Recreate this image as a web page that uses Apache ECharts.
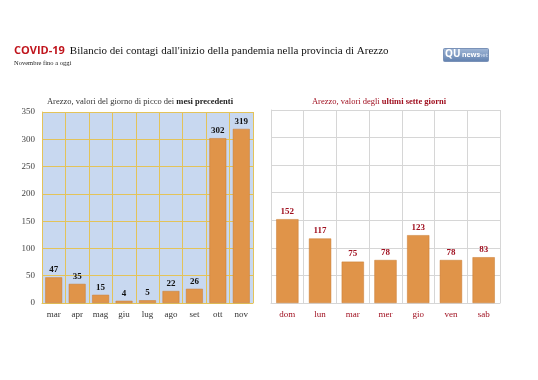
<!DOCTYPE html>
<html><head><meta charset="utf-8">
<script src="https://cdn.jsdelivr.net/npm/echarts@6/dist/echarts.min.js"></script>
<style>html,body{margin:0;padding:0;background:#fff}#c{width:538px;height:380px}</style>
</head><body><div id="c"></div>
<script>
const months = ['mar','apr','mag','giu','lug','ago','set','ott','nov'];
const monthValues = [47,35,15,4,5,22,26,302,319];
const days = ['dom','lun','mar','mer','gio','ven','sab'];
const dayValues = [152,117,75,78,123,78,83];
const yTicks = [0,50,100,150,200,250,300,350];

const serif = '"Liberation Serif", "DejaVu Serif", serif';
const chart = echarts.init(document.getElementById('c'));
const barColor = '#e09449';
chart.setOption({
  animation:false,
  backgroundColor:'#fff',
  title:[{
    left:9, top:37,
    text:'{r|COVID-19} {b|Bilancio dei contagi dall\'inizio della pandemia nella provincia di Arezzo}',
    textStyle:{fontWeight:'normal',rich:{
      r:{fontFamily:'"Open Sans", "Noto Sans", sans-serif',fontWeight:'bold',fontSize:11,color:'#c0141c'},
      b:{fontFamily:serif,fontSize:11,fontWeight:'normal',color:'#111'}
    }}
  },{
    left:9, top:55, text:'Novembre fino a oggi',
    textStyle:{fontFamily:serif,fontSize:6.5,fontWeight:'normal',color:'#222'}
  },{
    left:135, top:92, textAlign:'center',
    text:'Arezzo, valori del giorno di picco dei {b|mesi precedenti}',
    textStyle:{fontFamily:serif,fontSize:8.5,fontWeight:'normal',color:'#333',rich:{b:{fontFamily:serif,fontSize:8.5,fontWeight:'bold',color:'#222'}}}
  },{
    left:374, top:92, textAlign:'center',
    text:'Arezzo, valori degli {b|ultimi sette giorni}',
    textStyle:{fontFamily:serif,fontSize:8.5,fontWeight:'normal',color:'#a01020',rich:{b:{fontFamily:serif,fontSize:8.5,fontWeight:'bold',color:'#a01020'}}}
  }],
  graphic:[{
    type:'rect', left:443, top:48, z:10, shape:{width:45,height:13,r:1},
    style:{fill:new echarts.graphic.LinearGradient(0,0,0,1,[{offset:0,color:'#a3b9d8'},{offset:1,color:'#5f7fae'}]),stroke:'#7a92b8'}
  },{
    type:'text', left:445, top:49, z:11, style:{text:'QU',fill:'#ffffff',fontSize:10,fontWeight:'bold',fontFamily:'"Noto Sans", sans-serif'}
  },{
    type:'text', left:462, top:51, z:11, style:{text:'news',fill:'#ffffff',fontSize:7,fontWeight:'bold',fontFamily:'"Noto Sans", sans-serif'}
  },{
    type:'text', left:477, top:52, z:11, style:{text:'.net',fill:'#d0dcee',fontSize:6,fontFamily:'"Noto Sans", sans-serif'}
  }],
  grid:[
    {left:42, top:112, width:211, height:191, backgroundColor:'#c8d8f0', show:true, borderWidth:0},
    {left:271, top:110, width:229, height:193, show:false}
  ],
  xAxis:[{
    gridIndex:0, type:'category', data:months,
    axisLine:{show:true,lineStyle:{color:'#e3c35a'}}, axisTick:{show:false},
    splitLine:{show:true,lineStyle:{color:'#e3c35a',width:1}},
    axisLabel:{fontFamily:serif,fontSize:9,color:'#333',margin:7}
  },{
    gridIndex:1, type:'category', data:days,
    axisLine:{show:true,lineStyle:{color:'#d6d6d6'}}, axisTick:{show:false},
    splitLine:{show:true,lineStyle:{color:'#d6d6d6',width:1}},
    axisLabel:{fontFamily:serif,fontSize:9,color:'#a01020',margin:7}
  }],
  yAxis:[{
    gridIndex:0, type:'value', min:yTicks[0], max:yTicks[yTicks.length-1], interval:50,
    axisLine:{show:true,lineStyle:{color:'#e3c35a'}}, axisTick:{show:false},
    splitLine:{show:true,lineStyle:{color:'#e3c35a'}},
    axisLabel:{fontFamily:serif,fontSize:9,color:'#444',margin:7}
  },{
    gridIndex:1, type:'value', min:yTicks[0], max:yTicks[yTicks.length-1], interval:50,
    axisLine:{show:true,lineStyle:{color:'#d6d6d6'}}, axisTick:{show:false},
    splitLine:{show:true,lineStyle:{color:'#d6d6d6'}},
    axisLabel:{show:false}
  }],
  series:[{
    type:'bar', xAxisIndex:0, yAxisIndex:0, data:monthValues, barWidth:'72%',
    itemStyle:{color:barColor,borderColor:'#c87a30',borderWidth:0.5},
    label:{show:true,position:'top',distance:3,fontFamily:serif,fontSize:9,fontWeight:'bold',color:'#111'}
  },{
    type:'bar', xAxisIndex:1, yAxisIndex:1, data:dayValues, barWidth:'68%',
    itemStyle:{color:barColor,borderColor:'#c87a30',borderWidth:0.5},
    label:{show:true,position:'top',distance:3,fontFamily:serif,fontSize:9,fontWeight:'bold',color:'#a01020'}
  }]
});
</script></body></html>
